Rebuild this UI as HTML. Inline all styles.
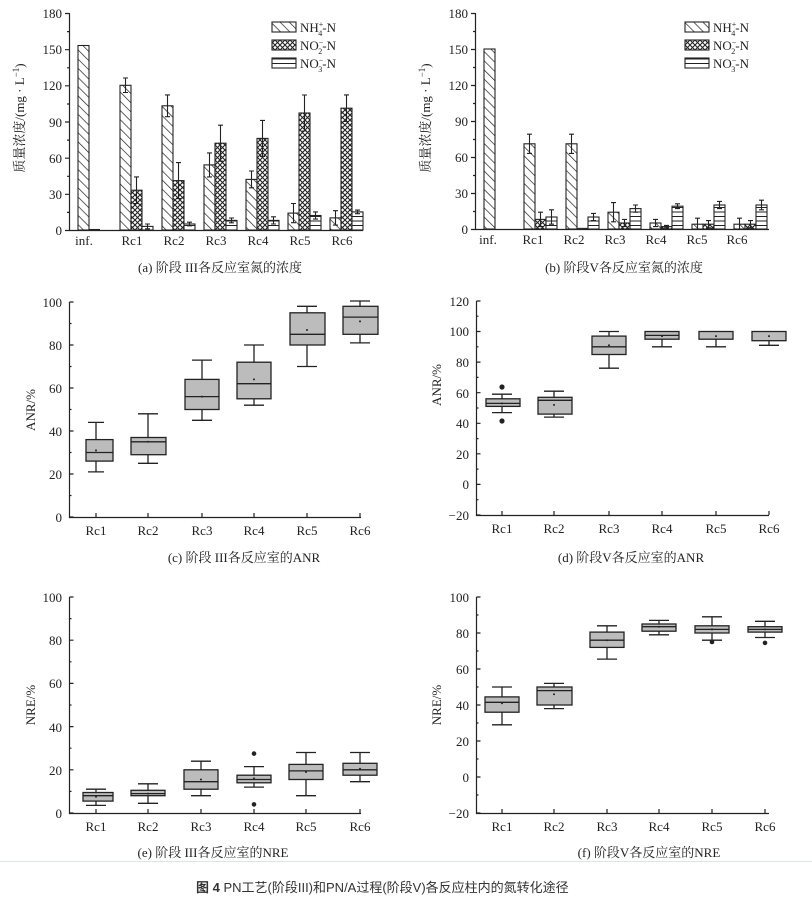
<!DOCTYPE html>
<html><head><meta charset="utf-8"><style>
html,body{margin:0;padding:0;background:#fff}
svg{display:block}
text{font-family:"Liberation Serif","Noto Serif CJK SC",serif;fill:#222}
.t{font-size:13px}
.cap{font-size:13px}
</style></head><body>
<svg width="812" height="899" viewBox="0 0 812 899" xmlns="http://www.w3.org/2000/svg">
<defs>
<pattern id="dg" patternUnits="userSpaceOnUse" width="6.5" height="6.5" patternTransform="rotate(-45)"><rect width="6.5" height="6.5" fill="#fff"/><line x1="0" y1="0" x2="0" y2="6.5" stroke="#222" stroke-width="1.4"/></pattern>
<pattern id="cx" patternUnits="userSpaceOnUse" width="5" height="5"><rect width="5" height="5" fill="#fff"/><path d="M0 0L5 5M5 0L0 5" stroke="#222" stroke-width="1.1"/></pattern>
<pattern id="hz" patternUnits="userSpaceOnUse" width="4" height="4.5"><rect width="4" height="4.5" fill="#fff"/><line x1="0" y1="0.5" x2="4" y2="0.5" stroke="#222" stroke-width="1"/></pattern>
</defs>
<rect x="0" y="861" width="812" height="38" fill="#fff"/>
<line x1="0" y1="861.5" x2="812" y2="861.5" stroke="#dfe5e5"/>

<!-- ================= Panel a ================= -->
<g stroke="#222" stroke-width="1.2" fill="none">
<path d="M69.5 13V230.5H363"/>
<path d="M65 230.5h4M65 194.3h4M65 158.2h4M65 122h4M65 85.8h4M65 49.7h4M65 13.5h4M67 212.4h2M67 176.3h2M67 140.1h2M67 104h2M67 67.8h2M67 31.6h2"/>
</g>
<g class="t" text-anchor="end">
<text x="62" y="235">0</text><text x="62" y="199">30</text><text x="62" y="163">60</text><text x="62" y="127">90</text><text x="62" y="90">120</text><text x="62" y="54">150</text><text x="62" y="18">180</text>
</g>
<text class="t" transform="translate(24,118) rotate(-90)" text-anchor="middle">质量浓度/(mg · L<tspan dy="-5" font-size="9">−1</tspan><tspan dy="5">)</tspan></text>
<g class="t" text-anchor="middle">
<text x="84" y="245">inf.</text><text x="132" y="245">Rc1</text><text x="174" y="245">Rc2</text><text x="216" y="245">Rc3</text><text x="258" y="245">Rc4</text><text x="300" y="245">Rc5</text><text x="342" y="245">Rc6</text>
</g>
<g stroke="#222" stroke-width="1.1">
<rect x="78" y="45.5" width="11" height="184.5" fill="url(#dg)"/>
<line x1="89" y1="229.5" x2="100" y2="229.5"/>
<rect x="120" y="85.3" width="11" height="144.7" fill="url(#dg)"/>
<rect x="131" y="190.2" width="11" height="39.8" fill="url(#cx)"/>
<rect x="142" y="226.4" width="11" height="3.6" fill="url(#hz)"/>
<rect x="162" y="105.8" width="11" height="124.2" fill="url(#dg)"/>
<rect x="173" y="180.6" width="11" height="49.4" fill="url(#cx)"/>
<rect x="184" y="224" width="11" height="6" fill="url(#hz)"/>
<rect x="204" y="164.9" width="11" height="65.1" fill="url(#dg)"/>
<rect x="215" y="143.2" width="11" height="86.8" fill="url(#cx)"/>
<rect x="226" y="220.4" width="11" height="9.6" fill="url(#hz)"/>
<rect x="246" y="179.4" width="11" height="50.6" fill="url(#dg)"/>
<rect x="257" y="138.4" width="11" height="91.6" fill="url(#cx)"/>
<rect x="268" y="220.4" width="11" height="9.6" fill="url(#hz)"/>
<rect x="288" y="213.1" width="11" height="16.9" fill="url(#dg)"/>
<rect x="299" y="113" width="11" height="117" fill="url(#cx)"/>
<rect x="310" y="215.5" width="11" height="14.5" fill="url(#hz)"/>
<rect x="330" y="217.9" width="11" height="12.1" fill="url(#dg)"/>
<rect x="341" y="108.2" width="11" height="121.8" fill="url(#cx)"/>
<rect x="352" y="211.9" width="11" height="18.1" fill="url(#hz)"/>
<path fill="none" d="M125.5 78V92.5M123 78h5M123 92.5h5 M136.5 176.9V203.5M134 176.9h5M134 203.5h5 M147.5 224V228.8M145 224h5M145 228.8h5
M167.5 94.9V116.7M165 94.9h5M165 116.7h5 M178.5 162.6V198.6M176 162.6h5M176 198.6h5 M189.5 222.2V225.8M187 222.2h5M187 225.8h5
M209.5 152.9V176.9M207 152.9h5M207 176.9h5 M220.5 125.2V161.2M218 125.2h5M218 161.2h5 M231.5 218V222.8M229 218h5M229 222.8h5
M251.5 171V187.8M249 171h5M249 187.8h5 M262.5 120.4V156.4M260 120.4h5M260 156.4h5 M273.5 216.8V224M271 216.8h5M271 224h5
M293.5 203.5V222.7M291 203.5h5M291 222.7h5 M304.5 95V131M302 95h5M302 131h5 M315.5 211.9V219.1M313 211.9h5M313 219.1h5
M335.5 210.7V225.1M333 210.7h5M333 225.1h5 M346.5 94.9V121.5M344 94.9h5M344 121.5h5 M357.5 210.1V213.7M355 210.1h5M355 213.7h5"/>
<rect x="272" y="22" width="24" height="10" fill="url(#dg)"/>
<rect x="272" y="40" width="24" height="10" fill="url(#cx)"/>
<rect x="272" y="58" width="24" height="10" fill="url(#hz)"/>
</g>
<g class="t">
<text x="300" y="32">NH<tspan font-size="8" dy="-5">+</tspan><tspan font-size="8" dx="-5" dy="9">4</tspan><tspan dy="-4">-N</tspan></text>
<text x="300" y="50">NO<tspan font-size="8" dy="-5">−</tspan><tspan font-size="8" dx="-5" dy="9">2</tspan><tspan dy="-4">-N</tspan></text>
<text x="300" y="68">NO<tspan font-size="8" dy="-5">−</tspan><tspan font-size="8" dx="-5" dy="9">3</tspan><tspan dy="-4">-N</tspan></text>
</g>
<text class="cap" x="220" y="272" text-anchor="middle">(a) 阶段 III各反应室氮的浓度</text>

<!-- ================= Panel b ================= -->
<g stroke="#222" stroke-width="1.2" fill="none">
<path d="M475.5 13V229.5H769"/>
<path d="M471 229.5h4M471 193.5h4M471 157.5h4M471 121.5h4M471 85.5h4M471 49.5h4M471 13.5h4M473 211.5h2M473 175.5h2M473 139.5h2M473 103.5h2M473 67.5h2M473 31.5h2"/>
</g>
<g class="t" text-anchor="end">
<text x="468" y="234">0</text><text x="468" y="198">30</text><text x="468" y="162">60</text><text x="468" y="126">90</text><text x="468" y="90">120</text><text x="468" y="54">150</text><text x="468" y="18">180</text>
</g>
<text class="t" transform="translate(430,118) rotate(-90)" text-anchor="middle">质量浓度/(mg · L<tspan dy="-5" font-size="9">−1</tspan><tspan dy="5">)</tspan></text>
<g class="t" text-anchor="middle">
<text x="488" y="244">inf.</text><text x="533" y="244">Rc1</text><text x="574" y="244">Rc2</text><text x="615" y="244">Rc3</text><text x="656" y="244">Rc4</text><text x="697" y="244">Rc5</text><text x="737" y="244">Rc6</text>
</g>
<g stroke="#222" stroke-width="1.1">
<rect x="484" y="49" width="11" height="180" fill="url(#dg)"/>
<rect x="524" y="143.8" width="11" height="85.2" fill="url(#dg)"/>
<rect x="535" y="219.4" width="11" height="9.6" fill="url(#cx)"/>
<rect x="546" y="217" width="11" height="12" fill="url(#hz)"/>
<rect x="566" y="143.8" width="11" height="85.2" fill="url(#dg)"/>
<line x1="577" y1="228.4" x2="588" y2="228.4"/>
<rect x="588" y="217" width="11" height="12" fill="url(#hz)"/>
<rect x="608" y="212.2" width="11" height="16.8" fill="url(#dg)"/>
<rect x="619" y="223" width="11" height="6" fill="url(#cx)"/>
<rect x="630" y="208.6" width="11" height="20.4" fill="url(#hz)"/>
<rect x="650" y="223" width="11" height="6" fill="url(#dg)"/>
<rect x="661" y="226.6" width="11" height="2.4" fill="url(#cx)"/>
<rect x="672" y="206.2" width="11" height="22.8" fill="url(#hz)"/>
<rect x="692" y="224.2" width="11" height="4.8" fill="url(#dg)"/>
<rect x="703" y="224.2" width="11" height="4.8" fill="url(#cx)"/>
<rect x="714" y="205" width="11" height="24" fill="url(#hz)"/>
<rect x="734" y="224.2" width="11" height="4.8" fill="url(#dg)"/>
<rect x="745" y="224.2" width="11" height="4.8" fill="url(#cx)"/>
<rect x="756" y="205" width="11" height="24" fill="url(#hz)"/>
<path fill="none" d="M529.5 134.2V153.4M527 134.2h5M527 153.4h5 M540.5 212.2V226.6M538 212.2h5M538 226.6h5 M551.5 209.8V224.2M549 209.8h5M549 224.2h5
M571.5 134.2V153.4M569 134.2h5M569 153.4h5 M593.5 213.4V220.6M591 213.4h5M591 220.6h5
M613.5 202.6V221.8M611 202.6h5M611 221.8h5 M624.5 219.4V226.6M622 219.4h5M622 226.6h5 M635.5 205V212.2M633 205h5M633 212.2h5
M655.5 219.4V226.6M653 219.4h5M653 226.6h5 M666.5 225.4V227.8M664 225.4h5M664 227.8h5 M677.5 203.8V208.6M675 203.8h5M675 208.6h5
M697.5 218.2V229M695 218.2h5 M708.5 220.6V227.8M706 220.6h5M706 227.8h5 M719.5 201.4V208.6M717 201.4h5M717 208.6h5
M739.5 218.2V229M737 218.2h5 M750.5 220.6V227.8M748 220.6h5M748 227.8h5 M761.5 200.2V209.8M759 200.2h5M759 209.8h5"/>
<rect x="685" y="22" width="24" height="10" fill="url(#dg)"/>
<rect x="685" y="40" width="24" height="10" fill="url(#cx)"/>
<rect x="685" y="58" width="24" height="10" fill="url(#hz)"/>
</g>
<g class="t">
<text x="713" y="32">NH<tspan font-size="8" dy="-5">+</tspan><tspan font-size="8" dx="-5" dy="9">4</tspan><tspan dy="-4">-N</tspan></text>
<text x="713" y="50">NO<tspan font-size="8" dy="-5">−</tspan><tspan font-size="8" dx="-5" dy="9">2</tspan><tspan dy="-4">-N</tspan></text>
<text x="713" y="68">NO<tspan font-size="8" dy="-5">−</tspan><tspan font-size="8" dx="-5" dy="9">3</tspan><tspan dy="-4">-N</tspan></text>
</g>
<text class="cap" x="624" y="272" text-anchor="middle">(b) 阶段V各反应室氮的浓度</text>

<!-- ================= Panel c ================= -->
<g stroke="#222" stroke-width="1.2" fill="none">
<path d="M69.5 302V517.5H361"/>
<path d="M69.5 517h4M69.5 474h4M69.5 431h4M69.5 388h4M69.5 345h4M69.5 302h4M69.5 495.5h2M69.5 452.5h2M69.5 409.5h2M69.5 366.5h2M69.5 323.5h2"/>
<path d="M96 517v-4M148 517v-4M202 517v-4M254 517v-4M307 517v-4M360 517v-4"/>
</g>
<g class="t" text-anchor="end">
<text x="62" y="522">0</text><text x="62" y="479">20</text><text x="62" y="436">40</text><text x="62" y="393">60</text><text x="62" y="350">80</text><text x="62" y="307">100</text>
</g>
<text class="t" transform="translate(35,410) rotate(-90)" text-anchor="middle">ANR/%</text>
<g class="t" text-anchor="middle">
<text x="96" y="535">Rc1</text><text x="148" y="535">Rc2</text><text x="202" y="535">Rc3</text><text x="254" y="535">Rc4</text><text x="307" y="535">Rc5</text><text x="360" y="535">Rc6</text>
</g>
<g stroke="#222" stroke-width="1.3" fill="none">
<path d="M96 439.6V422.4M96 461.1V471.9M88 422.4h16M88 471.9h16"/>
<rect x="86" y="439.6" width="27" height="21.5" fill="#bcbcbc"/><path d="M86 452.5h27"/>
<path d="M148 437.5V413.8M148 454.7V463.3M138 413.8h20M138 463.3h20"/>
<rect x="131" y="437.5" width="35" height="17.2" fill="#bcbcbc"/><path d="M131 441.8h35"/>
<path d="M202 379.4V360.1M202 409.5V420.3M192 360.1h20M192 420.3h20"/>
<rect x="185" y="379.4" width="34" height="30.1" fill="#bcbcbc"/><path d="M185 396.6h34"/>
<path d="M254 362.2V345M254 398.8V405.2M244 345h20M244 405.2h20"/>
<rect x="237" y="362.2" width="34" height="36.6" fill="#bcbcbc"/><path d="M237 383.7h34"/>
<path d="M307 312.8V306.3M307 345V366.5M297 306.3h20M297 366.5h20"/>
<rect x="290" y="312.8" width="35" height="32.2" fill="#bcbcbc"/><path d="M290 334.3h35"/>
<path d="M360 306.3V301M360 334.3V342.9M350 301h20M350 342.9h20"/>
<rect x="343" y="306.3" width="35" height="28" fill="#bcbcbc"/><path d="M343 317.1h35"/>
</g>
<g fill="#222"><circle cx="96" cy="450.4" r="1"/><circle cx="148" cy="441.8" r="1"/><circle cx="202" cy="396.6" r="1"/><circle cx="254" cy="379.4" r="1"/><circle cx="307" cy="330" r="1"/><circle cx="360" cy="321.4" r="1"/></g>
<text class="cap" x="244" y="562" text-anchor="middle">(c) 阶段 III各反应室的ANR</text>

<!-- ================= Panel d ================= -->
<g stroke="#222" stroke-width="1.2" fill="none">
<path d="M476.5 301V515.5H769"/>
<path d="M476.5 515h4M476.5 484.4h4M476.5 453.8h4M476.5 423.3h4M476.5 392.7h4M476.5 362.1h4M476.5 331.5h4M476.5 301h4M476.5 499.7h2M476.5 469.1h2M476.5 438.6h2M476.5 408h2M476.5 377.4h2M476.5 346.8h2M476.5 316.2h2"/>
<path d="M502 515v-4M554 515v-4M609 515v-4M662 515v-4M716 515v-4M769 515v-4"/>
</g>
<g class="t" text-anchor="end">
<text x="469" y="520">−20</text><text x="469" y="489">0</text><text x="469" y="459">20</text><text x="469" y="428">40</text><text x="469" y="398">60</text><text x="469" y="367">80</text><text x="469" y="336">100</text><text x="469" y="306">120</text>
</g>
<text class="t" transform="translate(441,385) rotate(-90)" text-anchor="middle">ANR/%</text>
<g class="t" text-anchor="middle">
<text x="502" y="533">Rc1</text><text x="554" y="533">Rc2</text><text x="609" y="533">Rc3</text><text x="662" y="533">Rc4</text><text x="716" y="533">Rc5</text><text x="769" y="533">Rc6</text>
</g>
<g stroke="#222" stroke-width="1.3" fill="none">
<path d="M502 398.8V394.2M502 406.4V412.6M492 394.2h20M492 412.6h20"/>
<rect x="486" y="398.8" width="34" height="7.6" fill="#bcbcbc"/><path d="M486 403.4h34"/>
<path d="M554 397.3V391.2M554 414.1V417.1M544 391.2h20M544 417.1h20"/>
<rect x="538" y="397.3" width="34" height="16.8" fill="#bcbcbc"/><path d="M538 400.3h34"/>
<path d="M609 336.1V331.5M609 354.5V368.2M599 331.5h20M599 368.2h20"/>
<rect x="592" y="336.1" width="34" height="18.4" fill="#bcbcbc"/><path d="M592 346.8h34"/>
<path d="M662 339.2V346.8M652 346.8h20"/>
<rect x="645" y="331.5" width="34" height="7.7" fill="#bcbcbc"/><path d="M645 335.4h34"/>
<path d="M716 339.2V346.8M706 346.8h20"/>
<rect x="699" y="331.5" width="34" height="7.7" fill="#bcbcbc"/>
<path d="M769 340.7V345.3M759 345.3h20"/>
<rect x="752" y="331.5" width="34" height="9.2" fill="#bcbcbc"/>
</g>
<g fill="#222"><circle cx="502" cy="403.4" r="1"/><circle cx="554" cy="404.9" r="1"/><circle cx="609" cy="345.3" r="1"/><circle cx="662" cy="336.1" r="1"/><circle cx="716" cy="336.1" r="1"/><circle cx="769" cy="336.1" r="1"/>
<circle cx="502" cy="387" r="2.6"/><circle cx="502" cy="421" r="2.6"/></g>
<text class="cap" x="631" y="562" text-anchor="middle">(d) 阶段V各反应室的ANR</text>

<!-- ================= Panel e ================= -->
<g stroke="#222" stroke-width="1.2" fill="none">
<path d="M69.5 597V813.5H361"/>
<path d="M69.5 813h4M69.5 769.8h4M69.5 726.6h4M69.5 683.4h4M69.5 640.2h4M69.5 597h4M69.5 791.4h2M69.5 748.2h2M69.5 705h2M69.5 661.8h2M69.5 618.6h2"/>
<path d="M96 813v-4M148 813v-4M201 813v-4M254 813v-4M306 813v-4M360 813v-4"/>
</g>
<g class="t" text-anchor="end">
<text x="62" y="818">0</text><text x="62" y="775">20</text><text x="62" y="732">40</text><text x="62" y="688">60</text><text x="62" y="645">80</text><text x="62" y="602">100</text>
</g>
<text class="t" transform="translate(35,705) rotate(-90)" text-anchor="middle">NRE/%</text>
<g class="t" text-anchor="middle">
<text x="96" y="831">Rc1</text><text x="148" y="831">Rc2</text><text x="201" y="831">Rc3</text><text x="254" y="831">Rc4</text><text x="306" y="831">Rc5</text><text x="360" y="831">Rc6</text>
</g>
<g stroke="#222" stroke-width="1.3" fill="none">
<path d="M96 792.5V789.2M96 801.1V805.4M86 789.2h20M86 805.4h20"/>
<rect x="83" y="792.5" width="30" height="8.6" fill="#bcbcbc"/><path d="M83 795.7h30"/>
<path d="M148 790.3V783.8M148 795.7V803.3M138 783.8h20M138 803.3h20"/>
<rect x="131" y="790.3" width="34" height="5.4" fill="#bcbcbc"/><path d="M131 793.6h34"/>
<path d="M201 769.8V761.2M201 789.2V795.7M191 761.2h20M191 795.7h20"/>
<rect x="184" y="769.8" width="34" height="19.4" fill="#bcbcbc"/><path d="M184 781.7h34"/>
<path d="M254 775.2V766.6M254 782.8V787.1M244 766.6h20M244 787.1h20"/>
<rect x="237" y="775.2" width="34" height="7.6" fill="#bcbcbc"/><path d="M237 779.5h34"/>
<path d="M306 764.4V752.5M306 779.5V795.7M296 752.5h20M296 795.7h20"/>
<rect x="289" y="764.4" width="34" height="15.1" fill="#bcbcbc"/><path d="M289 770.9h34"/>
<path d="M360 763.3V752.5M360 775.2V781.7M350 752.5h20M350 781.7h20"/>
<rect x="343" y="763.3" width="34" height="11.9" fill="#bcbcbc"/><path d="M343 769.8h34"/>
</g>
<g fill="#222"><circle cx="96" cy="796.8" r="1"/><circle cx="148" cy="793.6" r="1"/><circle cx="201" cy="779.5" r="1"/><circle cx="254" cy="778.4" r="1"/><circle cx="306" cy="772" r="1"/><circle cx="360" cy="768.7" r="1"/>
<circle cx="254" cy="753.6" r="2.3"/><circle cx="254" cy="804.4" r="2.3"/></g>
<text class="cap" x="213" y="857" text-anchor="middle">(e) 阶段 III各反应室的NRE</text>

<!-- ================= Panel f ================= -->
<g stroke="#222" stroke-width="1.2" fill="none">
<path d="M476.5 597V813.5H769"/>
<path d="M476.5 813h4M476.5 777h4M476.5 741h4M476.5 705h4M476.5 669h4M476.5 633h4M476.5 597h4M476.5 795h2M476.5 759h2M476.5 723h2M476.5 687h2M476.5 651h2M476.5 615h2"/>
<path d="M502 813v-4M554 813v-4M607 813v-4M659 813v-4M712 813v-4M765 813v-4"/>
</g>
<g class="t" text-anchor="end">
<text x="469" y="818">−20</text><text x="469" y="782">0</text><text x="469" y="746">20</text><text x="469" y="710">40</text><text x="469" y="674">60</text><text x="469" y="638">80</text><text x="469" y="602">100</text>
</g>
<text class="t" transform="translate(441,705) rotate(-90)" text-anchor="middle">NRE/%</text>
<g class="t" text-anchor="middle">
<text x="502" y="831">Rc1</text><text x="554" y="831">Rc2</text><text x="607" y="831">Rc3</text><text x="659" y="831">Rc4</text><text x="712" y="831">Rc5</text><text x="765" y="831">Rc6</text>
</g>
<g stroke="#222" stroke-width="1.3" fill="none">
<path d="M502 696.9V687M502 712.2V724.8M492 687h20M492 724.8h20"/>
<rect x="485" y="696.9" width="34" height="15.3" fill="#bcbcbc"/><path d="M485 702.3h34"/>
<path d="M554 687V683.4M554 705V708.6M544 683.4h20M544 708.6h20"/>
<rect x="537" y="687" width="35" height="18" fill="#bcbcbc"/><path d="M537 690.6h35"/>
<path d="M607 632.1V625.8M607 647.4V659.1M597 625.8h20M597 659.1h20"/>
<rect x="590" y="632.1" width="34" height="15.3" fill="#bcbcbc"/><path d="M590 640.2h34"/>
<path d="M659 624V620.4M659 631.2V634.8M649 620.4h20M649 634.8h20"/>
<rect x="642" y="624" width="34" height="7.2" fill="#bcbcbc"/><path d="M642 626.7h34"/>
<path d="M712 625.8V616.8M712 633V640.2M702 616.8h20M702 640.2h20"/>
<rect x="695" y="625.8" width="34" height="7.2" fill="#bcbcbc"/><path d="M695 629.4h34"/>
<path d="M765 626.7V621.3M765 632.1V637.5M755 621.3h20M755 637.5h20"/>
<rect x="748" y="626.7" width="34" height="5.4" fill="#bcbcbc"/><path d="M748 629.4h34"/>
</g>
<g fill="#222"><circle cx="502" cy="703.2" r="1"/><circle cx="554" cy="694.2" r="1"/><circle cx="607" cy="640.2" r="1"/><circle cx="659" cy="626.7" r="1"/><circle cx="712" cy="629.4" r="1"/><circle cx="765" cy="629.4" r="1"/>
<circle cx="712" cy="642" r="2.3"/><circle cx="765" cy="642.9" r="2.3"/></g>
<text class="cap" x="649" y="857" text-anchor="middle">(f) 阶段V各反应室的NRE</text>

<text x="196" y="892" style="font-family:'Liberation Sans','Noto Sans CJK SC',sans-serif;font-size:13px;fill:#333"><tspan font-weight="bold">图 4</tspan>  PN工艺(阶段III)和PN/A过程(阶段V)各反应柱内的氮转化途径</text>
</svg>
</body></html>
